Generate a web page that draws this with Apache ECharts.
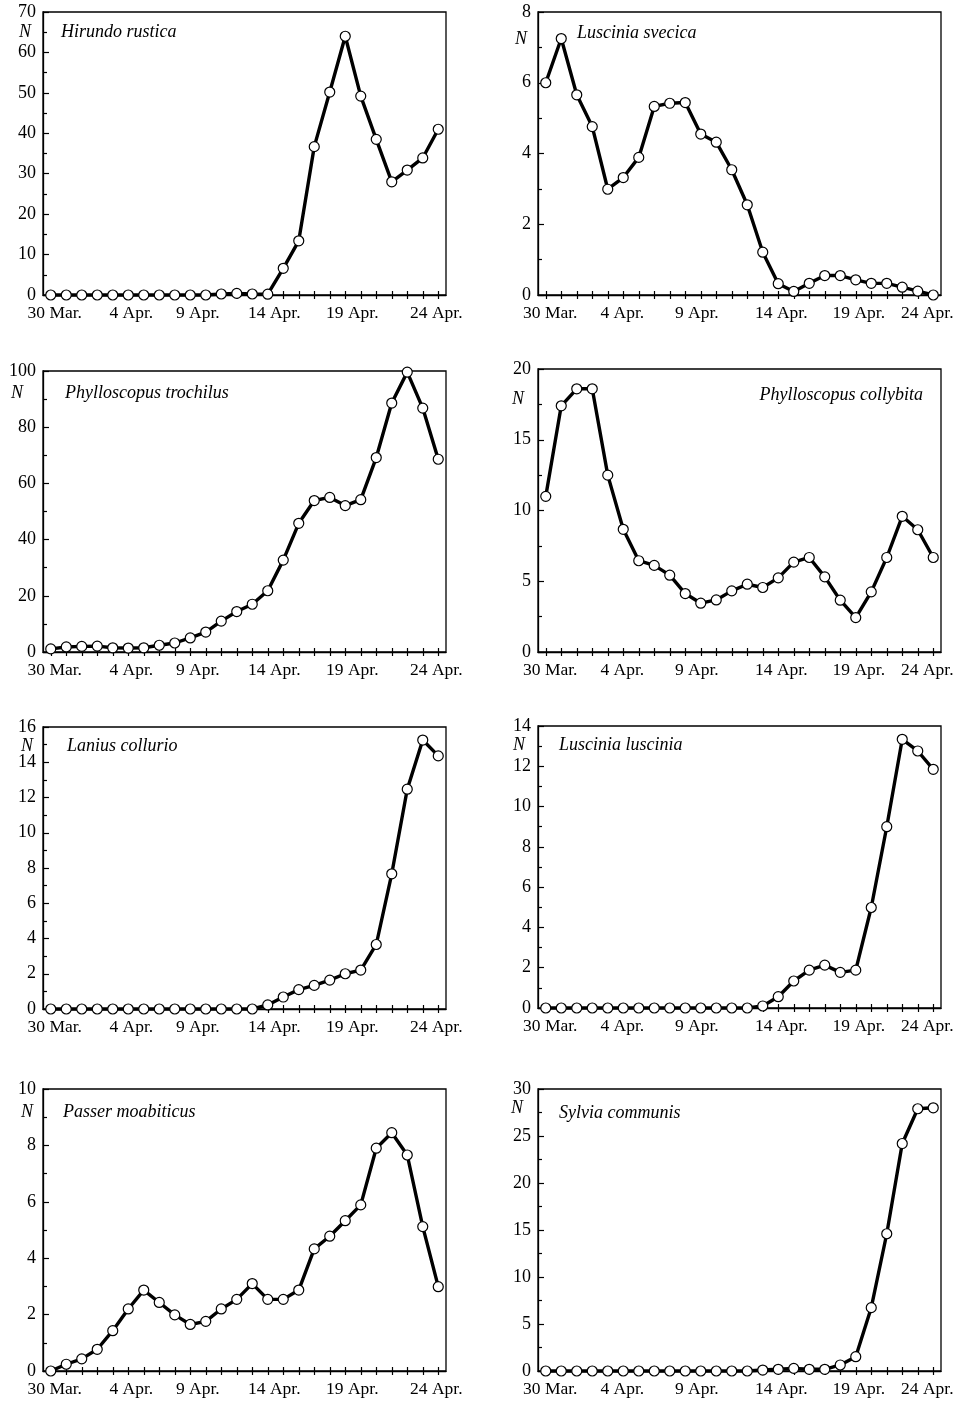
<!DOCTYPE html>
<html>
<head>
<meta charset="utf-8">
<script src="https://cdn.jsdelivr.net/npm/echarts@6/dist/echarts.min.js"></script>
<style>html,body{margin:0;padding:0;background:#fff}#c{width:959px;height:1407px}</style>
</head>
<body>
<div id="c"></div>
<script>
// Categories: 30 Mar. .. 24 Apr. (26 days)
const days = ["30 Mar.", "31 Mar.", "1 Apr.", "2 Apr.", "3 Apr.", "4 Apr.", "5 Apr.", "6 Apr.", "7 Apr.", "8 Apr.", "9 Apr.", "10 Apr.", "11 Apr.", "12 Apr.", "13 Apr.", "14 Apr.", "15 Apr.", "16 Apr.", "17 Apr.", "18 Apr.", "19 Apr.", "20 Apr.", "21 Apr.", "22 Apr.", "23 Apr.", "24 Apr."];

const speciesNames = ["Hirundo rustica", "Luscinia svecica", "Phylloscopus trochilus", "Phylloscopus collybita", "Lanius collurio", "Luscinia luscinia", "Passer moabiticus", "Sylvia communis"];

const hirundoRustica = [0, 0, 0, 0, 0, 0, 0, 0, 0, 0, 0, 0.25, 0.4, 0.25, 0.2, 6.6, 13.4, 36.7, 50.2, 64.0, 49.2, 38.5, 28.0, 30.9, 33.9, 41.0];
const lusciniaSvecica = [6.0, 7.25, 5.66, 4.76, 2.99, 3.32, 3.89, 5.33, 5.42, 5.44, 4.55, 4.32, 3.54, 2.55, 1.21, 0.32, 0.10, 0.33, 0.55, 0.55, 0.43, 0.33, 0.33, 0.22, 0.11, 0];
const phylloscopusTrochilus = [1.1, 1.8, 2.0, 2.1, 1.5, 1.4, 1.5, 2.4, 3.2, 5.0, 7.1, 11.0, 14.4, 17.0, 21.8, 32.7, 45.8, 53.9, 55.0, 52.1, 54.2, 69.2, 88.6, 99.6, 86.8, 68.6];
const phylloscopusCollybita = [11.0, 17.4, 18.6, 18.6, 12.5, 8.67, 6.45, 6.12, 5.43, 4.13, 3.45, 3.68, 4.32, 4.79, 4.56, 5.24, 6.35, 6.68, 5.31, 3.66, 2.43, 4.25, 6.68, 9.59, 8.64, 6.68];
const laniusCollurio = [0, 0, 0, 0, 0, 0, 0, 0, 0, 0, 0, 0, 0, 0, 0.23, 0.68, 1.10, 1.34, 1.64, 2.0, 2.21, 3.66, 7.67, 12.47, 15.26, 14.36];
const lusciniaLuscinia = [0, 0, 0, 0, 0, 0, 0, 0, 0, 0, 0, 0, 0, 0, 0.1, 0.56, 1.34, 1.88, 2.13, 1.77, 1.88, 4.99, 9.0, 13.34, 12.76, 11.85];
const passerMoabiticus = [0, 0.24, 0.43, 0.77, 1.43, 2.2, 2.87, 2.43, 1.99, 1.65, 1.76, 2.2, 2.54, 3.1, 2.54, 2.54, 2.87, 4.33, 4.78, 5.33, 5.89, 7.9, 8.45, 7.66, 5.12, 2.99];
const sylviaCommunis = [0, 0, 0, 0, 0, 0, 0, 0, 0, 0, 0, 0, 0, 0, 0.1, 0.18, 0.28, 0.18, 0.18, 0.64, 1.52, 6.74, 14.6, 24.2, 27.9, 28.0];

const seriesData = [hirundoRustica, lusciniaSvecica, phylloscopusTrochilus, phylloscopusCollybita, laniusCollurio, lusciniaLuscinia, passerMoabiticus, sylviaCommunis];

// Y axis ranges per panel
const yMax = [70, 8, 100, 20, 16, 14, 10, 30];
const yInterval = [10, 2, 20, 5, 2, 2, 2, 5];
const yLabel = "N";

// Layout (styles / positions)
const grids = [
  {left: 43, top: 12, width: 403, height: 283},
  {left: 538, top: 12, width: 403, height: 283},
  {left: 43, top: 371, width: 403, height: 281},
  {left: 538, top: 369, width: 403, height: 283},
  {left: 43, top: 727, width: 403, height: 282},
  {left: 538, top: 726, width: 403, height: 282},
  {left: 43, top: 1089, width: 403, height: 282},
  {left: 538, top: 1089, width: 403, height: 282}
];
const nPos = [[25, 32], [521, 39], [17, 393], [518, 399], [27, 746], [519, 745], [27, 1112], [517, 1108]];
const titlePos = [[61, 32, 'left'], [577, 33, 'left'], [65, 393, 'left'], [923, 395, 'right'], [67, 746, 'left'], [559, 745, 'left'], [63, 1112, 'left'], [559, 1113, 'left']];
// small horizontal nudges of the x tick labels (px), as typeset in the original
const labelShiftLeftCol = [4, 3, -8, -9, -8.5, -2];
const labelShiftRightCol = [4.5, -1, -4, 3, 3, -6];

const FONT = '"Liberation Serif", "Times New Roman", serif';

function makeRich() {
  const rich = {};
  const all = labelShiftLeftCol.concat(labelShiftRightCol);
  all.forEach((d, k) => {
    rich['s' + k] = {
      fontFamily: FONT, fontSize: 17.5, color: '#000',
      padding: d >= 0 ? [0, 0, 0, 2 * d] : [0, -2 * d, 0, 0]
    };
  });
  return rich;
}

const option = {
  animation: false,
  backgroundColor: '#fff',
  grid: [],
  xAxis: [],
  yAxis: [],
  series: [],
  graphic: []
};

grids.forEach((g, i) => {
  const col = i % 2;
  option.grid.push(Object.assign({show: true, borderColor: '#000', borderWidth: 1.3, backgroundColor: 'transparent', containLabel: false}, g));
  // main x axis: line, inward ticks, labels
  option.xAxis.push({
    type: 'category', gridIndex: i, data: days, boundaryGap: true, position: 'bottom',
    axisLine: {show: true, lineStyle: {color: '#000', width: 1.3}},
    axisTick: {show: true, inside: true, length: 4, alignWithLabel: true, interval: 0, lineStyle: {color: '#000', width: 1.2}},
    axisLabel: {
      show: true, interval: 4, margin: 9, color: '#000', fontFamily: FONT, fontSize: 17.5,
      formatter: function (value, idx) {
        const k = Math.round(idx / 5) + col * 6;
        return '{s' + k + '|' + value + '}';
      },
      rich: makeRich()
    },
    splitLine: {show: false}
  });
  // secondary x axis: outward ticks only (ticks cross the axis)
  option.xAxis.push({
    type: 'category', gridIndex: i, data: days, boundaryGap: true, position: 'bottom', offset: 0,
    axisLine: {show: false},
    axisTick: {show: true, inside: false, length: 4, alignWithLabel: true, interval: 0, lineStyle: {color: '#000', width: 1.2}},
    axisLabel: {show: false},
    splitLine: {show: false}
  });
  option.yAxis.push({
    type: 'value', gridIndex: i, min: 0, max: yMax[i], interval: yInterval[i],
    axisLine: {show: true, lineStyle: {color: '#000', width: 1.3}},
    axisTick: {show: true, inside: true, length: 6, lineStyle: {color: '#000', width: 1.2}},
    minorTick: {show: true, splitNumber: 2, length: 4, lineStyle: {color: '#000', width: 1.2}},
    axisLabel: {margin: 7, color: '#000', fontFamily: FONT, fontSize: 18},
    splitLine: {show: false}
  });
  option.series.push({
    type: 'line', xAxisIndex: 2 * i, yAxisIndex: i, data: seriesData[i],
    symbol: 'circle', symbolSize: 10, showAllSymbol: true, clip: false,
    lineStyle: {color: '#000', width: 3.4},
    itemStyle: {color: '#fff', borderColor: '#000', borderWidth: 1.2},
    emphasis: {disabled: true}
  });
  option.graphic.push({
    type: 'text', x: nPos[i][0], y: nPos[i][1],
    style: {text: yLabel, font: 'italic 18px ' + FONT, fill: '#000', align: 'center', verticalAlign: 'middle'}
  });
  option.graphic.push({
    type: 'text', x: titlePos[i][0], y: titlePos[i][1],
    style: {text: speciesNames[i], font: 'italic 18px ' + FONT, fill: '#000', align: titlePos[i][2], verticalAlign: 'middle'}
  });
});

const chart = echarts.init(document.getElementById('c'), null, {renderer: 'canvas'});
chart.setOption(option);
</script>
</body>
</html>
